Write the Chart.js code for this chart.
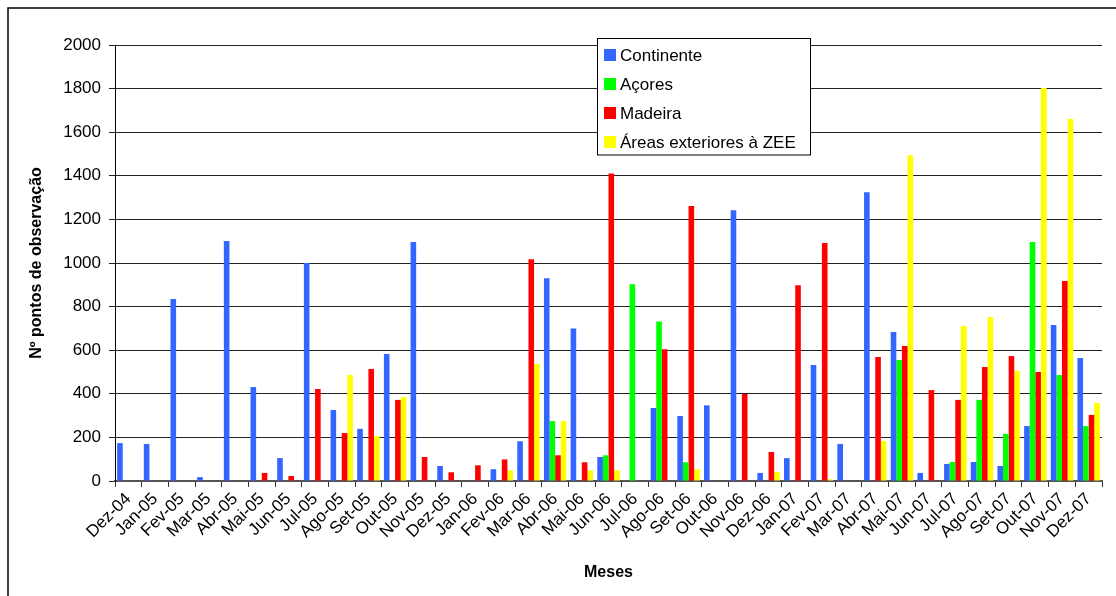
<!DOCTYPE html>
<html>
<head>
<meta charset="utf-8">
<script src="https://cdn.jsdelivr.net/npm/chart.js@4/dist/chart.umd.min.js"></script>
<style>
  html, body { margin: 0; padding: 0; background: #fff; }
  canvas { display: block; }
</style>
</head>
<body>
<canvas id="chart" width="1116" height="596"></canvas>
<script>
// Months of observation, Dez-04 .. Dez-07
const meses = ['Dez-04','Jan-05','Fev-05','Mar-05','Abr-05','Mai-05','Jun-05','Jul-05','Ago-05','Set-05',
  'Out-05','Nov-05','Dez-05','Jan-06','Fev-06','Mar-06','Abr-06','Mai-06','Jun-06','Jul-06',
  'Ago-06','Set-06','Out-06','Nov-06','Dez-06','Jan-07','Fev-07','Mar-07','Abr-07','Mai-07',
  'Jun-07','Jul-07','Ago-07','Set-07','Out-07','Nov-07','Dez-07'];

// Number of observation points per region
const continente = [174,170,835,18,1101,431,105,1000,326,239,583,1096,69,null,54,182,930,700,110,null,
  335,298,347,1242,37,105,532,170,1324,683,37,78,87,69,252,716,564];
const acores = [null,null,null,null,null,null,null,null,null,null,null,null,null,null,null,null,275,null,118,902,
  732,86,null,null,null,null,null,null,null,555,null,87,372,216,1096,486,252];
const madeira = [null,null,null,null,null,37,23,422,220,514,372,110,40,72,99,1017,118,86,1411,null,
  604,1261,null,399,133,898,1092,null,569,619,417,372,523,573,500,917,303];
const exteriores = [null,null,null,null,null,null,null,null,486,206,385,null,null,null,49,537,275,49,49,null,
  null,54,null,null,41,null,8,null,183,1494,null,711,752,505,1803,1661,358];

const yTicks = [0,200,400,600,800,1000,1200,1400,1600,1800,2000];

const FONT = 'Liberation Sans, Arial, sans-serif';

// White page, outer frame and the boxed legend
const framePlugin = {
  id: 'frame',
  beforeDraw(chart) {
    const c = chart.ctx;
    c.save();
    c.fillStyle = '#fff';
    c.fillRect(0, 0, chart.width, chart.height);
    c.restore();
  },
  afterDraw(chart) {
    const c = chart.ctx;
    c.save();
    c.strokeStyle = '#000';
    c.lineWidth = 1.5;
    c.beginPath();
    c.moveTo(8, chart.height + 2);
    c.lineTo(8, 8);
    c.lineTo(chart.width + 2, 8);
    c.stroke();

    // legend
    const bx = 597.5, by = 38.5, bw = 213, bh = 116.5;
    c.fillStyle = '#fff';
    c.fillRect(bx, by, bw, bh);
    c.strokeStyle = '#000';
    c.lineWidth = 1;
    c.strokeRect(bx, by, bw, bh);
    c.font = '17px ' + FONT;
    c.textBaseline = 'middle';
    c.textAlign = 'left';
    chart.data.datasets.forEach((ds, i) => {
      const cy = 55 + i * 29;
      c.fillStyle = ds.backgroundColor;
      c.fillRect(604, cy - 6, 12, 12);
      c.fillStyle = '#000';
      c.fillText(ds.label, 620, cy + 1);
    });
    c.restore();
  }
};

new Chart(document.getElementById('chart'), {
  type: 'bar',
  data: {
    labels: meses,
    datasets: [
      { label: 'Continente', data: continente, backgroundColor: '#3366FF' },
      { label: 'Açores', data: acores, backgroundColor: '#00FF00' },
      { label: 'Madeira', data: madeira, backgroundColor: '#FF0000' },
      { label: 'Áreas exteriores à ZEE', data: exteriores, backgroundColor: '#FFFF00' }
    ]
  },
  options: {
    responsive: false,
    animation: false,
    devicePixelRatio: 1,
    layout: { padding: { top: 45, right: 14, left: 0, bottom: 0 } },
    datasets: { bar: { categoryPercentage: 0.84, barPercentage: 1.0, borderWidth: 0 } },
    plugins: { legend: { display: false }, tooltip: { enabled: false } },
    scales: {
      x: {
        grid: { display: true, drawOnChartArea: false, drawTicks: true, tickLength: 6, color: '#333', offset: true },
        border: { display: true, color: '#555', width: 2 },
        ticks: {
          color: '#000', font: { family: FONT, size: 17 },
          autoSkip: false, minRotation: 45, maxRotation: 45, padding: 2
        },
        title: {
          display: true, text: 'Meses', color: '#000',
          font: { family: FONT, size: 16, weight: 'bold' },
          padding: { top: 0, bottom: 14 }
        },
        afterFit(scale) { scale.height = 115; }
      },
      y: {
        min: 0, max: 2000,
        afterBuildTicks(scale) { scale.ticks = yTicks.map(v => ({ value: v })); },
        grid: { color: '#222', lineWidth: 1, tickLength: 6, drawTicks: true },
        border: { display: true, color: '#000', width: 1 },
        ticks: {
          color: '#000', font: { family: FONT, size: 17 }, padding: 8,
          callback: (v) => String(v)
        },
        title: {
          display: true, text: 'Nº pontos de observação', color: '#000',
          font: { family: FONT, size: 16, weight: 'bold' },
          padding: { top: 27, bottom: 0 }
        },
        afterFit(scale) { scale.width = 115; }
      }
    }
  },
  plugins: [framePlugin]
});
</script>
</body>
</html>
